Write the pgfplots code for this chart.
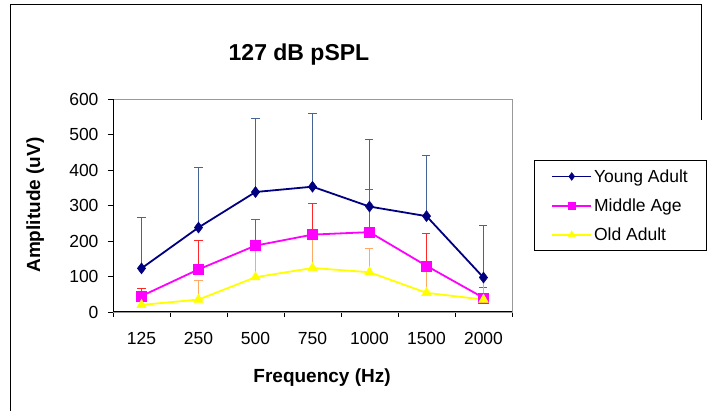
\documentclass[border=0pt]{standalone}
\usepackage{fontspec}
\setmainfont{Liberation Sans}
\usepackage{pgfplots}
\usepackage{pgfplotstable}
\pgfplotsset{compat=1.18}

\definecolor{young}{RGB}{0,0,128}
\definecolor{youngerr}{RGB}{70,100,150}
\definecolor{middle}{RGB}{255,0,255}
\definecolor{middleerr}{RGB}{255,40,40}
\definecolor{old}{RGB}{255,255,0}
\definecolor{olderr}{RGB}{255,170,100}

% mean amplitude (uV) and upper standard deviation per frequency
\pgfplotstableread{
x y ey
0 123 144
1 238 170
2 338 207
3 353 206
4 297 188
5 270 171
6 97 148
}\youngdata
\pgfplotstableread{
x y ey
0 45 20
1 120 81
2 187 74
3 218 87
4 225 121
5 130 90
6 40 30
}\middledata
\pgfplotstableread{
x y ey
0 20 30
1 35 54
2 98 87
3 124 86
4 112 67
5 54 71
6 35 65
}\olddata

\begin{document}
\begin{tikzpicture}
\useasboundingbox (0bp,0bp) rectangle (709bp,411bp);
% outer chart frame
\draw[line width=1bp] (10bp,-2bp) -- (10bp,406bp) -- (701bp,406bp) -- (701bp,291bp);
\node[font=\fontsize{23bp}{27bp}\selectfont\bfseries] at (299bp,356bp) {127 dB pSPL};
\begin{axis}[
  at={(113bp,99bp)}, anchor=south west,
  scale only axis, width=399bp, height=213bp,
  xmin=-0.5, xmax=6.5, ymin=0, ymax=600,
  xtick={0,...,6},
  xticklabels={125,250,500,750,1000,1500,2000},
  minor xtick={-0.5,0.5,...,6.5},
  ytick={0,100,...,600},
  tick align=outside, xtick pos=left, ytick pos=left,
  major x tick style={draw=none},
  tick style={black, line width=0.8bp},
  major tick length=5bp, minor tick length=5bp,
  axis line style={draw=gray!80, line width=0.8bp},
  ticklabel style={font=\fontsize{17.5bp}{20bp}\selectfont},
  xticklabel style={yshift=-12bp},
  yticklabel style={xshift=-6bp},
  /pgf/number format/assume math mode=true,
  xlabel={Frequency (Hz)},
  ylabel={Amplitude (uV)},
  label style={font=\fontsize{19bp}{22bp}\selectfont\bfseries},
  xlabel style={at={(axis description cs:0.524,-0.31)}, anchor=center},
  ylabel style={at={(axis description cs:-0.195,0.502)}, anchor=center},
  legend style={at={(axis description cs:1.055,0.7136)}, anchor=north west,
    draw=black, line width=0.8bp, font=\fontsize{17.5bp}{20bp}\selectfont,
    row sep=11bp, inner xsep=17bp, inner ysep=7bp},
  legend cell align=left,
  legend image code/.code={
    \draw[mark repeat=2, mark phase=2, #1, every mark/.append style={scale=0.7}]
      plot coordinates {(0bp,0bp) (19.5bp,0bp) (39bp,0bp)};},
  after end axis/.code={
    \draw[black, line width=1bp] (rel axis cs:0,1) -- (rel axis cs:0,0) -- (rel axis cs:1,0);},
]
\addplot[young, line width=1.8bp, mark=diamond*, mark size=5.5bp,
  mark options={fill=young, draw=young, line width=0.5bp},
  error bars/.cd, y dir=plus, y explicit,
  error bar style={youngerr, line width=1bp},
  error mark options={rotate=90, mark size=4bp, youngerr, line width=1bp}]
  table[x=x, y=y, y error=ey] {\youngdata};
\addlegendentry{Young Adult}
\addplot[middle, line width=1.8bp, mark=square*, mark size=5bp,
  mark options={fill=middle, draw=middle, line width=0.5bp},
  error bars/.cd, y dir=plus, y explicit,
  error bar style={middleerr, line width=1bp},
  error mark options={rotate=90, mark size=4bp, middleerr, line width=1bp}]
  table[x=x, y=y, y error=ey] {\middledata};
\addlegendentry{Middle Age}
\addplot[old, line width=1.8bp, mark=triangle*, mark size=5.5bp,
  mark options={fill=old, draw=old, line width=0.5bp},
  error bars/.cd, y dir=plus, y explicit,
  error bar style={olderr, line width=1bp},
  error mark options={rotate=90, mark size=4bp, olderr, line width=1bp}]
  table[x=x, y=y, y error=ey] {\olddata};
\addlegendentry{Old Adult}
\end{axis}
\end{tikzpicture}
\end{document}
